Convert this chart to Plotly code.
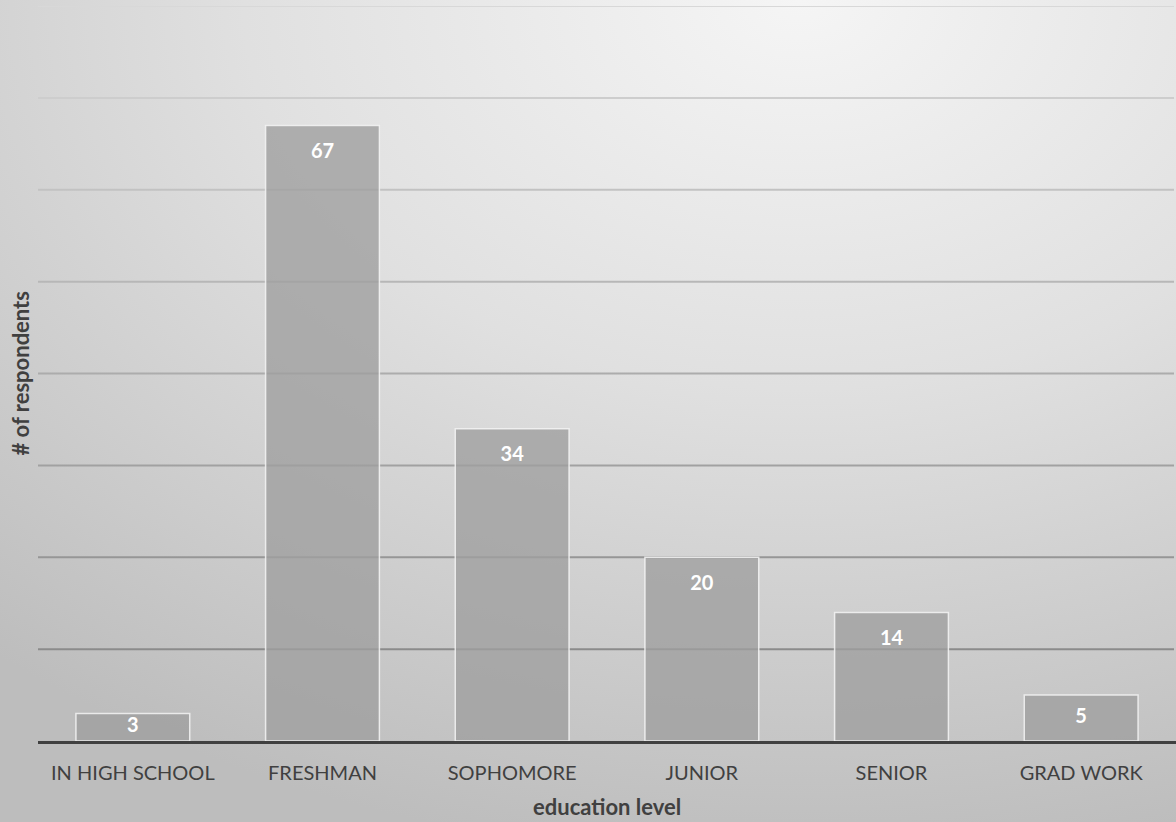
import base64
import plotly.graph_objects as go

# Survey responses by education level
categories = ["IN HIGH SCHOOL", "FRESHMAN", "SOPHOMORE", "JUNIOR", "SENIOR", "GRAD WORK"]
respondents = [3, 67, 34, 20, 14, 5]
grid_values = [10, 20, 30, 40, 50, 60, 70, 80]

W, H = 1176, 822
M_L, M_R, M_T, M_B = 38, 0, 6, 81
Y_MAX = 80
FONT = "Lato"
TEXT_COLOR = "#404040"

plot_w = W - M_L - M_R
plot_h = H - M_T - M_B

# soft radial backdrop, lighter toward the upper right
svg = f"""<svg xmlns='http://www.w3.org/2000/svg' width='{W}' height='{H}' viewBox='0 0 {W} {H}'>
<defs><radialGradient id='g' cx='0.68' cy='0.0' r='1.05' gradientUnits='objectBoundingBox'>
<stop offset='0' stop-color='#f5f5f5'/>
<stop offset='0.45' stop-color='#e0e0e0'/>
<stop offset='1' stop-color='#bdbdbd'/>
</radialGradient></defs>
<rect width='{W}' height='{H}' fill='url(#g)'/></svg>"""
bg_uri = "data:image/svg+xml;base64," + base64.b64encode(svg.encode()).decode()

fig = go.Figure()

fig.add_trace(go.Bar(
    x=categories,
    y=respondents,
    marker=dict(color="rgba(159,159,159,0.79)",
                line=dict(color="rgba(245,245,245,0.85)", width=1.5)),
    hoverinfo="x+y",
))

# value labels sit just inside the top of each bar
label_y = [v - min(3, v / 2) for v in respondents]
fig.add_trace(go.Scatter(
    x=categories,
    y=label_y,
    mode="text",
    text=[str(v) for v in respondents],
    textfont=dict(family=FONT, size=20, color="white", weight="bold"),
    hoverinfo="skip",
))


def mix(c0, c1, t):
    return "rgb({},{},{})".format(*[round(a + (b - a) * t) for a, b in zip(c0, c1)])


# gridlines fade from dark near the baseline to pale at the top
shapes = []
for g in grid_values:
    t = g / Y_MAX
    shapes.append(dict(
        type="line", xref="paper", yref="y", x0=0, x1=(plot_w - 2) / plot_w, y0=g, y1=g,
        line=dict(color=mix((128, 128, 128), (216, 216, 216), t), width=2),
        layer="below",
    ))

fig.update_layout(
    width=W, height=H,
    margin=dict(l=M_L, r=M_R, t=M_T, b=M_B),
    paper_bgcolor="#d8d8d8",
    plot_bgcolor="rgba(0,0,0,0)",
    showlegend=False,
    bargap=0.4,
    shapes=shapes,
    font=dict(family=FONT, color=TEXT_COLOR),
    images=[dict(
        source=bg_uri, xref="paper", yref="paper",
        x=-M_L / plot_w, y=1 + M_T / plot_h,
        sizex=W / plot_w, sizey=H / plot_h,
        sizing="stretch", xanchor="left", yanchor="top", layer="below",
    )],
    annotations=[
        dict(text="<b># of respondents</b>", xref="paper", yref="paper", x=0, y=0.5,
             xanchor="center", yanchor="middle", xshift=-18, textangle=-90,
             showarrow=False, font=dict(family=FONT, size=22, color=TEXT_COLOR)),
        dict(text="<b>education level</b>", xref="paper", yref="paper", x=0.5, y=0,
             xanchor="center", yanchor="middle", yshift=-65,
             showarrow=False, font=dict(family=FONT, size=22, color=TEXT_COLOR)),
    ],
)

fig.update_xaxes(
    showline=True, linecolor="#404040", linewidth=3,
    showgrid=False, ticks="outside", ticklen=12, tickcolor="rgba(0,0,0,0)",
    tickfont=dict(family=FONT, size=20, color=TEXT_COLOR),
    range=[-0.5, 5.5], fixedrange=True,
)
fig.update_yaxes(
    range=[0, Y_MAX], showgrid=False, showticklabels=False, zeroline=False,
    showline=False, fixedrange=True,
)

fig.write_html("out.html")
